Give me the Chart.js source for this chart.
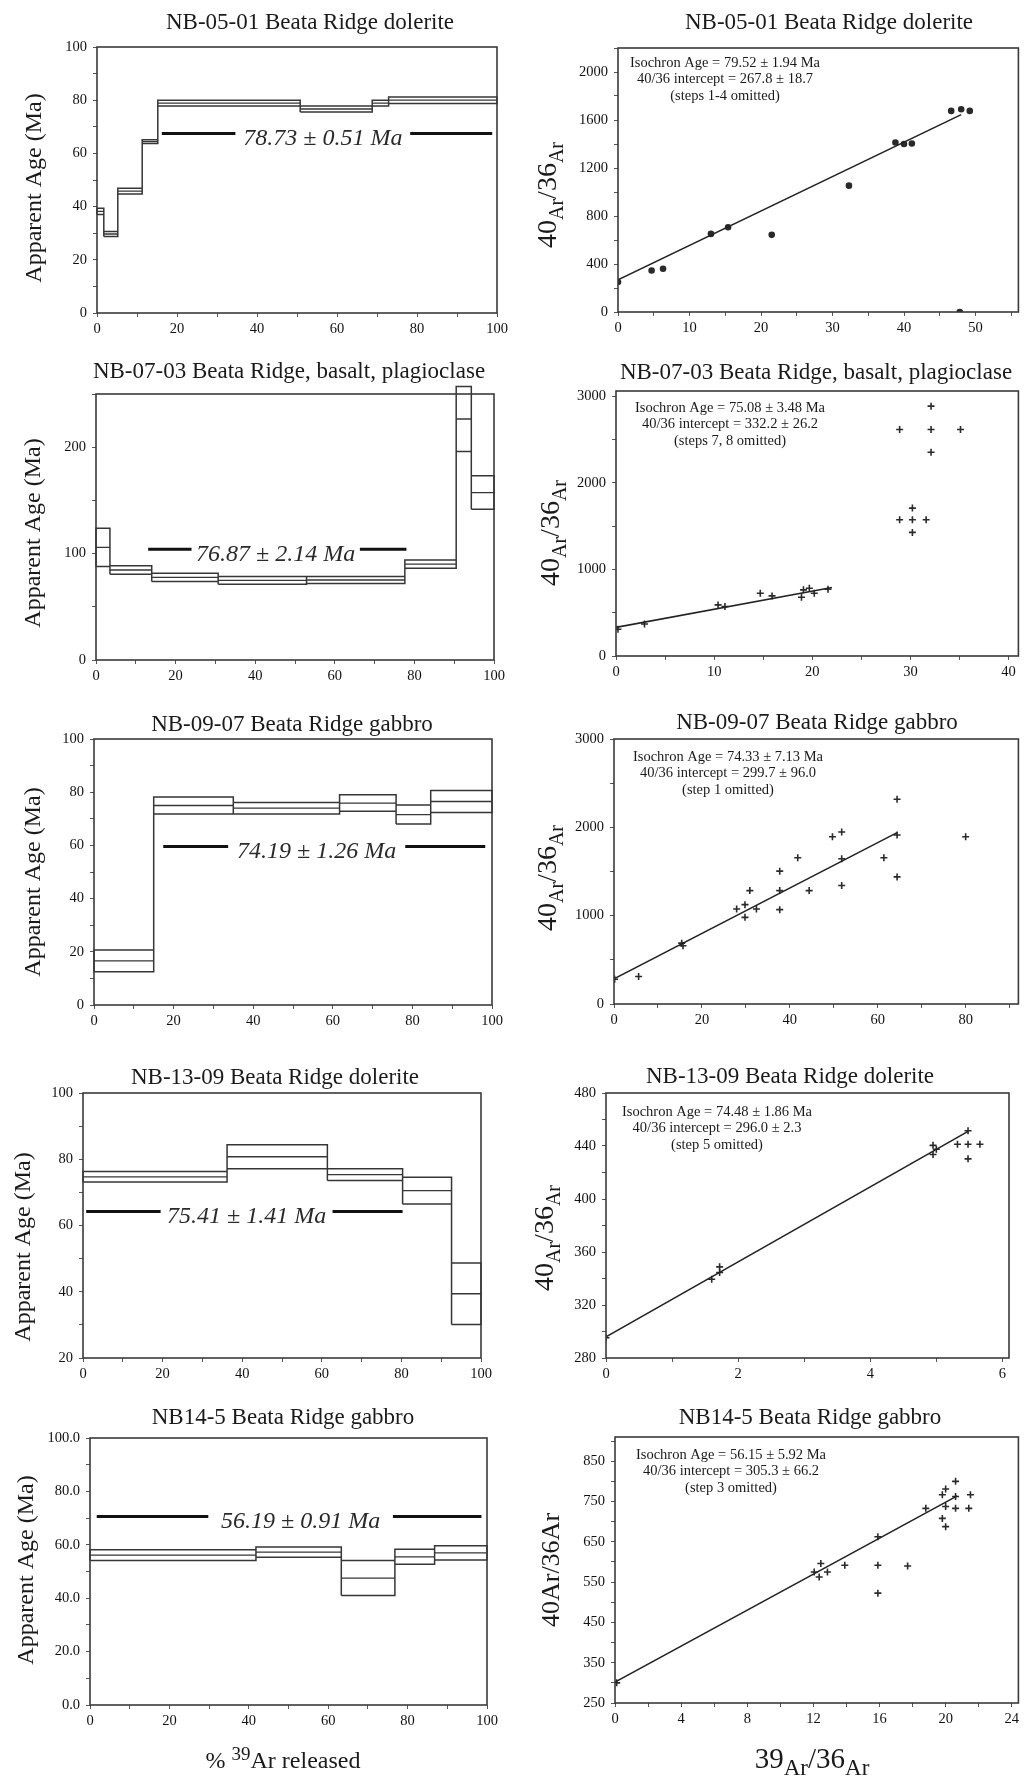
<!DOCTYPE html>
<html>
<head>
<meta charset="utf-8">
<script src="https://cdn.jsdelivr.net/npm/chart.js@4.4.1/dist/chart.umd.min.js"></script>
<style>
  html, body { margin: 0; padding: 0; background: #fff; }
  body { width: 1024px; height: 1776px; position: relative; overflow: hidden; }
  canvas { position: absolute; }
</style>
</head>
<body>
<script>
const SERIF = '"Liberation Serif", "Times New Roman", serif';

// ---------- shared ticks ----------
const pctTicks = [0, 10, 20, 30, 40, 50, 60, 70, 80, 90, 100];
const pctLabels = [0, 20, 40, 60, 80, 100];
const ageTicks = [0, 10, 20, 30, 40, 50, 60, 70, 80, 90, 100];
const ageLabels = [0, 20, 40, 60, 80, 100];

// ---------- NB-05-01 age spectrum ----------
const p1Edges = [0, 1.7, 5.2, 11.3, 15.2, 50.8, 68.8, 72.9, 100];
const p1Ages = [38.2, 29.7, 45.8, 64.4, 78.9, 76.7, 78.9, 80.0];
const p1Errs = [1.2, 0.9, 1.1, 0.7, 1.1, 1.1, 1.1, 1.25];
const p1Plateau = [16.2, 34.6, 78.3, 98.8]; // start, gap start, gap end, end
const p1PlateauAge = 67.5;

// ---------- NB-05-01 isochron ----------
const p2X = [0, 4.7, 6.3, 13.0, 15.4, 21.5, 32.3, 38.8, 40.0, 41.1, 46.6, 48.0, 49.2, 47.8];
const p2Y = [250, 346, 360, 651, 706, 643, 1053, 1413, 1400, 1404, 1676, 1690, 1676, 0];
const p2FitX = [0, 48.0];
const p2FitY = [268, 1645];
const p2YTicks = [0, 200, 400, 600, 800, 1000, 1200, 1400, 1600, 1800, 2000, 2200];
const p2YLabels = [0, 400, 800, 1200, 1600, 2000];
const p2XTicks = [0, 5, 10, 15, 20, 25, 30, 35, 40, 45, 50, 55];
const p2XLabels = [0, 10, 20, 30, 40, 50];

// ---------- NB-07-03 age spectrum ----------
const p3Edges = [0, 3.5, 14.0, 30.7, 52.9, 77.6, 90.5, 94.3, 100];
const p3Ages = [105.8, 84.6, 77.6, 74.8, 75.2, 90.1, 226.5, 157.4];
const p3Errs = [18.0, 4.0, 3.9, 3.6, 3.2, 3.9, 30.5, 15.7];
const p3Plateau = [13.1, 24.0, 66.3, 78.0];
const p3PlateauAge = 104;
const p3YTicks = [0, 50, 100, 150, 200, 250];
const p3YLabels = [0, 100, 200];

// ---------- NB-07-03 isochron ----------
const p4X = [0.2, 2.9, 10.4, 11.1, 14.7, 15.9, 18.9, 19.1, 19.7, 20.2, 21.6, 28.9, 32.1, 32.1, 35.1, 32.1, 28.9, 30.2, 30.2, 31.6, 30.2];
const p4Y = [309, 370, 590, 571, 725, 694, 679, 764, 783, 725, 771, 2615, 2885, 2615, 2615, 2353, 1573, 1708, 1573, 1573, 1427];
const p4FitX = [0, 22];
const p4FitY = [330, 790];
const p4YTicks = [0, 500, 1000, 1500, 2000, 2500, 3000];
const p4YLabels = [0, 1000, 2000, 3000];
const p4XTicks = [0, 5, 10, 15, 20, 25, 30, 35, 40];
const p4XLabels = [0, 10, 20, 30, 40];

// ---------- NB-09-07 age spectrum ----------
const p5Edges = [0, 15.0, 35.0, 61.7, 75.9, 84.6, 100];
const p5Ages = [16.6, 75.0, 74.0, 75.9, 71.6, 76.5];
const p5Errs = [4.1, 3.15, 2.15, 3.1, 3.6, 4.1];
const p5Plateau = [17.4, 33.7, 78.2, 98.3];
const p5PlateauAge = 59.6;

// ---------- NB-09-07 isochron ----------
const p6X = [0.15, 5.6, 15.4, 15.7, 27.9, 29.8, 29.8, 30.9, 32.4, 37.7, 37.7, 37.7, 41.8, 44.4, 49.7, 51.8, 51.8, 51.8, 61.4, 64.4, 64.4, 64.4, 80.0];
const p6Y = [280, 311, 689, 659, 1076, 1125, 981, 1284, 1076, 1504, 1284, 1068, 1655, 1284, 1894, 1947, 1644, 1341, 1655, 2318, 1913, 1439, 1894];
const p6FitX = [0, 64.4];
const p6FitY = [285, 1940];
const p6YTicks = [0, 500, 1000, 1500, 2000, 2500, 3000];
const p6YLabels = [0, 1000, 2000, 3000];
const p6XTicks = [0, 10, 20, 30, 40, 50, 60, 70, 80, 90];
const p6XLabels = [0, 20, 40, 60, 80];

// ---------- NB-13-09 age spectrum ----------
const p7Edges = [0, 36.2, 61.4, 80.3, 92.6, 100];
const p7Ages = [74.7, 80.75, 75.35, 70.55, 39.4];
const p7Errs = [1.6, 3.65, 1.75, 4.05, 9.3];
const p7Plateau = [0.8, 19.5, 62.7, 80.3];
const p7PlateauAge = 64.2;
const p7YTicks = [20, 30, 40, 50, 60, 70, 80, 90, 100];
const p7YLabels = [20, 40, 60, 80, 100];

// ---------- NB-13-09 isochron ----------
const p8X = [0, 1.6, 1.72, 1.72, 4.95, 4.95, 5.0, 5.48, 5.32, 5.48, 5.66, 5.48];
const p8Y = [295.3, 339.4, 348.8, 344.5, 440.5, 433.6, 437.5, 451.5, 441.3, 441.3, 441.3, 430.3];
const p8FitX = [0, 5.48];
const p8FitY = [296, 451];
const p8YTicks = [280, 300, 320, 340, 360, 380, 400, 420, 440, 460, 480];
const p8YLabels = [280, 320, 360, 400, 440, 480];
const p8XTicks = [0, 1, 2, 3, 4, 5, 6];
const p8XLabels = [0, 2, 4, 6];

// ---------- NB14-5 age spectrum ----------
const p9Edges = [0, 41.8, 63.3, 76.8, 86.8, 100];
const p9Ages = [56.1, 57.25, 47.55, 55.5, 56.95];
const p9Errs = [2.0, 1.95, 6.55, 2.8, 2.65];
const p9Plateau = [1.7, 29.8, 76.3, 98.6];
const p9PlateauAge = 70.6;

// ---------- NB14-5 isochron ----------
const p10X = [0.1, 12.05, 12.45, 12.35, 12.85, 13.9, 15.9, 15.9, 15.9, 17.7, 18.8, 19.8, 20.0, 19.8, 20.0, 20.0, 20.6, 20.6, 20.6, 21.5, 21.4];
const p10Y = [300, 575, 596, 562.5, 575, 591.7, 662.5, 591.7, 522.5, 590, 733, 766.7, 781, 708, 687.5, 737.5, 800, 762.5, 733, 766.7, 733];
const p10FitX = [0, 20.7];
const p10FitY = [302, 764];
const p10YTicks = [250, 300, 350, 400, 450, 500, 550, 600, 650, 700, 750, 800, 850, 900];
const p10YLabels = [250, 350, 450, 550, 650, 750, 850];
const p10XTicks = [0, 2, 4, 6, 8, 10, 12, 14, 16, 18, 20, 22, 24];
const p10XLabels = [0, 4, 8, 12, 16, 20, 24];

// ---------- dataset builders ----------
function stepBoxes(edges, ages, errs) {
  const pts = [];
  for (let i = 0; i < ages.length; i++) {
    const x0 = edges[i], x1 = edges[i + 1];
    const lo = ages[i] - errs[i], hi = ages[i] + errs[i];
    pts.push({x: x0, y: lo}, {x: x0, y: hi}, {x: x1, y: hi}, {x: x1, y: lo}, {x: x0, y: lo}, {x: x0, y: null});
    if (i < ages.length - 1) {
      // vertical joining this step to the next
      const lo2 = ages[i + 1] - errs[i + 1], hi2 = ages[i + 1] + errs[i + 1];
      pts.push({x: x1, y: Math.min(lo, lo2)}, {x: x1, y: Math.max(hi, hi2)}, {x: x1, y: null});
    }
  }
  return pts;
}

function stepMids(edges, ages) {
  const pts = [];
  ages.forEach((a, i) => {
    pts.push({x: edges[i], y: a}, {x: edges[i + 1], y: a}, {x: edges[i + 1], y: null});
  });
  return pts;
}

function spectrumSets(edges, ages, errs, plateau, plateauAge) {
  return [
    {data: stepBoxes(edges, ages, errs), borderColor: '#363636', borderWidth: 1.5, pointRadius: 0, clip: false},
    {data: stepMids(edges, ages), borderColor: '#363636', borderWidth: 1.3, pointRadius: 0},
    {
      data: [
        {x: plateau[0], y: plateauAge}, {x: plateau[1], y: plateauAge}, {x: plateau[1], y: null},
        {x: plateau[2], y: plateauAge}, {x: plateau[3], y: plateauAge}
      ],
      borderColor: '#111', borderWidth: 3, pointRadius: 0
    }
  ];
}

function isochronSets(xs, ys, fx, fy, style) {
  return [
    {data: fx.map((x, i) => ({x: x, y: fy[i]})), borderColor: '#222', borderWidth: 1.6, pointRadius: 0},
    {
      data: xs.map((x, i) => ({x: x, y: ys[i]})),
      showLine: false,
      pointStyle: style,
      pointRadius: style === 'circle' ? 2.5 : 3.5,
      pointBorderWidth: 1.6,
      pointBackgroundColor: '#2a2a2a',
      pointBorderColor: '#2a2a2a'
    }
  ];
}

// ---------- text helpers ----------
function drawRuns(ctx, runs, x, y) {
  let total = 0;
  runs.forEach(r => {
    ctx.font = `${r.style || ''} ${r.size}px ${SERIF}`;
    r.w = ctx.measureText(r.t).width;
    total += r.w;
  });
  let cur = x - total / 2;
  const base = y + runs[0].size * 0.33;
  ctx.textAlign = 'left';
  ctx.textBaseline = 'alphabetic';
  runs.forEach(r => {
    ctx.font = `${r.style || ''} ${r.size}px ${SERIF}`;
    ctx.fillText(r.t, cur, base + (r.dy || 0));
    cur += r.w;
  });
}

const ageTitle = [{t: 'Apparent Age (Ma)', size: 24}];
const ratioTitle = [
  {t: '40', size: 28}, {t: 'Ar', size: 20, dy: 7}, {t: '/', size: 28},
  {t: '36', size: 28}, {t: 'Ar', size: 20, dy: 7}
];
const ratioTitlePlain = [{t: '40Ar/36Ar', size: 26}];
const pctTitle = [{t: '% ', size: 24}, {t: '39', size: 19, dy: -8}, {t: 'Ar released', size: 24}];
const isoXTitle = [
  {t: '39', size: 29}, {t: 'Ar', size: 23, dy: 7}, {t: '/', size: 29},
  {t: '36', size: 29}, {t: 'Ar', size: 23, dy: 7}
];

function decor(p) {
  return {
    id: 'decor',
    afterDraw(chart) {
      const ctx = chart.ctx;
      const a = chart.chartArea;
      ctx.save();
      // box round the plot
      ctx.strokeStyle = '#3a3a3a';
      ctx.lineWidth = 1.6;
      ctx.strokeRect(a.left, a.top, a.right - a.left, a.bottom - a.top);

      ctx.fillStyle = '#1a1a1a';
      ctx.textAlign = 'center';
      ctx.textBaseline = 'middle';
      ctx.font = `23px ${SERIF}`;
      ctx.fillText(p.title, p.titleX - p.cx, p.titleY - p.cy);

      if (p.notes) {
        ctx.font = `14.5px ${SERIF}`;
        p.notes.forEach((line, i) => {
          ctx.fillText(line, a.left + p.noteDx, a.top + p.noteDy + i * 16.5);
        });
      }

      if (p.plateauLabel) {
        const xs = chart.scales.x, ys = chart.scales.y;
        ctx.font = `italic 24px ${SERIF}`;
        ctx.fillStyle = '#2a2a2a';
        ctx.fillText(p.plateauLabel,
          xs.getPixelForValue((p.plateau[1] + p.plateau[2]) / 2),
          ys.getPixelForValue(p.plateauAge) + 5);
      }

      ctx.fillStyle = '#1a1a1a';
      if (p.xTitle) drawRuns(ctx, p.xTitle, p.xTitleX - p.cx, p.xTitleY - p.cy);

      ctx.translate(p.yTitleX - p.cx, p.yTitleY - p.cy);
      ctx.rotate(-Math.PI / 2);
      drawRuns(ctx, p.yTitle, 0, 0);
      ctx.restore();
    }
  };
}

function axisOpts(axis, min, max, ticks, labels, fmt, size) {
  return {
    type: 'linear',
    position: axis === 'x' ? 'bottom' : 'left',
    min: min,
    max: max,
    afterBuildTicks: s => { s.ticks = ticks.map(v => ({value: v})); },
    afterFit: s => { if (axis === 'x') s.height = size; else s.width = size; },
    grid: {drawOnChartArea: false, drawTicks: true, tickLength: 4, color: '#555', lineWidth: 1},
    border: {display: false},
    ticks: {
      autoSkip: false,
      maxRotation: 0,
      padding: axis === 'x' ? 3 : 6,
      color: '#111',
      font: {family: SERIF, size: 14.5},
      callback: v => labels.includes(v) ? fmt(v) : ''
    }
  };
}

const plain = v => String(v);
const oneDec = v => v.toFixed(1);

// ---------- panels (layout in page pixels) ----------
const panels = [
  {
    cx: 0, cy: 0, w: 512, h: 340, L: 97, T: 47, R: 497, B: 313,
    title: 'NB-05-01 Beata Ridge dolerite', titleX: 310, titleY: 23,
    yTitle: ageTitle, yTitleX: 33, yTitleY: 188,
    x: [0, 100, pctTicks, pctLabels, plain], y: [0, 100, ageTicks, ageLabels, plain],
    datasets: spectrumSets(p1Edges, p1Ages, p1Errs, p1Plateau, p1PlateauAge),
    plateau: p1Plateau, plateauAge: p1PlateauAge, plateauLabel: '78.73 ± 0.51 Ma'
  },
  {
    cx: 512, cy: 0, w: 512, h: 340, L: 618, T: 48, R: 1022, B: 312,
    title: 'NB-05-01 Beata Ridge dolerite', titleX: 829, titleY: 23,
    yTitle: ratioTitle, yTitleX: 547, yTitleY: 195,
    x: [0, 56, p2XTicks, p2XLabels, plain], y: [0, 2200, p2YTicks, p2YLabels, plain],
    datasets: isochronSets(p2X, p2Y, p2FitX, p2FitY, 'circle'),
    notes: ['Isochron Age = 79.52 ± 1.94 Ma', '40/36 intercept = 267.8 ± 18.7', '(steps 1-4 omitted)'],
    noteDx: 107, noteDy: 15
  },
  {
    cx: 0, cy: 340, w: 512, h: 350, L: 96, T: 394, R: 494, B: 660,
    title: 'NB-07-03 Beata Ridge, basalt, plagioclase', titleX: 289, titleY: 372,
    yTitle: ageTitle, yTitleX: 32, yTitleY: 533,
    x: [0, 100, pctTicks, pctLabels, plain], y: [0, 250, p3YTicks, p3YLabels, plain],
    datasets: spectrumSets(p3Edges, p3Ages, p3Errs, p3Plateau, p3PlateauAge),
    plateau: p3Plateau, plateauAge: p3PlateauAge, plateauLabel: '76.87 ± 2.14 Ma'
  },
  {
    cx: 512, cy: 340, w: 512, h: 350, L: 616, T: 391, R: 1022, B: 656,
    title: 'NB-07-03 Beata Ridge, basalt, plagioclase', titleX: 816, titleY: 373,
    yTitle: ratioTitle, yTitleX: 550, yTitleY: 533,
    x: [0, 41, p4XTicks, p4XLabels, plain], y: [0, 3060, p4YTicks, p4YLabels, plain],
    datasets: isochronSets(p4X, p4Y, p4FitX, p4FitY, 'cross'),
    notes: ['Isochron Age = 75.08 ± 3.48 Ma', '40/36 intercept = 332.2 ± 26.2', '(steps 7, 8 omitted)'],
    noteDx: 114, noteDy: 17
  },
  {
    cx: 0, cy: 690, w: 512, h: 340, L: 94, T: 739, R: 492, B: 1005,
    title: 'NB-09-07 Beata Ridge gabbro', titleX: 292, titleY: 725,
    yTitle: ageTitle, yTitleX: 32, yTitleY: 882,
    x: [0, 100, pctTicks, pctLabels, plain], y: [0, 100, ageTicks, ageLabels, plain],
    datasets: spectrumSets(p5Edges, p5Ages, p5Errs, p5Plateau, p5PlateauAge),
    plateau: p5Plateau, plateauAge: p5PlateauAge, plateauLabel: '74.19 ± 1.26 Ma'
  },
  {
    cx: 512, cy: 690, w: 512, h: 340, L: 614, T: 739, R: 1022, B: 1004,
    title: 'NB-09-07 Beata Ridge gabbro', titleX: 817, titleY: 723,
    yTitle: ratioTitle, yTitleX: 547, yTitleY: 878,
    x: [0, 92, p6XTicks, p6XLabels, plain], y: [0, 3000, p6YTicks, p6YLabels, plain],
    datasets: isochronSets(p6X, p6Y, p6FitX, p6FitY, 'cross'),
    notes: ['Isochron Age = 74.33 ± 7.13 Ma', '40/36 intercept = 299.7 ± 96.0', '(step 1 omitted)'],
    noteDx: 114, noteDy: 18
  },
  {
    cx: 0, cy: 1030, w: 512, h: 370, L: 83, T: 1093, R: 481, B: 1358,
    title: 'NB-13-09 Beata Ridge dolerite', titleX: 275, titleY: 1078,
    yTitle: ageTitle, yTitleX: 22, yTitleY: 1247,
    x: [0, 100, pctTicks, pctLabels, plain], y: [20, 100, p7YTicks, p7YLabels, plain],
    datasets: spectrumSets(p7Edges, p7Ages, p7Errs, p7Plateau, p7PlateauAge),
    plateau: p7Plateau, plateauAge: p7PlateauAge, plateauLabel: '75.41 ± 1.41 Ma'
  },
  {
    cx: 512, cy: 1030, w: 512, h: 370, L: 606, T: 1093, R: 1009, B: 1358,
    title: 'NB-13-09 Beata Ridge dolerite', titleX: 790, titleY: 1077,
    yTitle: ratioTitle, yTitleX: 544, yTitleY: 1238,
    x: [0, 6.1, p8XTicks, p8XLabels, plain], y: [280, 480, p8YTicks, p8YLabels, plain],
    datasets: isochronSets(p8X, p8Y, p8FitX, p8FitY, 'cross'),
    notes: ['Isochron Age = 74.48 ± 1.86 Ma', '40/36 intercept = 296.0 ± 2.3', '(step 5 omitted)'],
    noteDx: 111, noteDy: 19
  },
  {
    cx: 0, cy: 1400, w: 512, h: 376, L: 90, T: 1438, R: 487, B: 1705,
    title: 'NB14-5 Beata Ridge gabbro', titleX: 283, titleY: 1418,
    yTitle: ageTitle, yTitleX: 25, yTitleY: 1570,
    xTitle: pctTitle, xTitleX: 283, xTitleY: 1760,
    x: [0, 100, pctTicks, pctLabels, plain], y: [0, 100, ageTicks, ageLabels, oneDec],
    datasets: spectrumSets(p9Edges, p9Ages, p9Errs, p9Plateau, p9PlateauAge),
    plateau: p9Plateau, plateauAge: p9PlateauAge, plateauLabel: '56.19 ± 0.91 Ma'
  },
  {
    cx: 512, cy: 1400, w: 512, h: 376, L: 615, T: 1437, R: 1019, B: 1703,
    title: 'NB14-5 Beata Ridge gabbro', titleX: 810, titleY: 1418,
    yTitle: ratioTitlePlain, yTitleX: 550, yTitleY: 1570,
    xTitle: isoXTitle, xTitleX: 812, xTitleY: 1758,
    x: [0, 24.4, p10XTicks, p10XLabels, plain], y: [250, 910, p10YTicks, p10YLabels, plain],
    datasets: isochronSets(p10X, p10Y, p10FitX, p10FitY, 'cross'),
    notes: ['Isochron Age = 56.15 ± 5.92 Ma', '40/36 intercept = 305.3 ± 66.2', '(step 3 omitted)'],
    noteDx: 116, noteDy: 18
  }
];

function makeChart(p) {
  const cv = document.createElement('canvas');
  cv.width = p.w;
  cv.height = p.h;
  cv.style.left = p.cx + 'px';
  cv.style.top = p.cy + 'px';
  cv.style.width = p.w + 'px';
  cv.style.height = p.h + 'px';
  document.body.appendChild(cv);

  new Chart(cv, {
    type: 'line',
    data: {datasets: p.datasets},
    options: {
      responsive: false,
      animation: false,
      devicePixelRatio: 1,
      events: [],
      layout: {padding: {left: 0, bottom: 0, top: p.T - p.cy, right: p.cx + p.w - p.R}},
      plugins: {legend: {display: false}, tooltip: {enabled: false}},
      scales: {
        x: axisOpts('x', ...p.x, p.cy + p.h - p.B),
        y: axisOpts('y', ...p.y, p.L - p.cx)
      }
    },
    plugins: [decor(p)]
  });
}

panels.forEach(makeChart);
</script>
</body>
</html>
